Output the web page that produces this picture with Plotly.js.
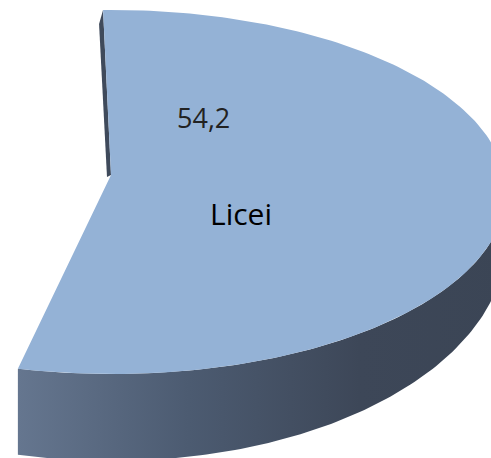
<!DOCTYPE html>
<html>
<head>
<meta charset="utf-8">
<script src="https://cdn.plot.ly/plotly-3.0.1.min.js"></script>
<style>html,body{margin:0;padding:0;background:#fff;}#chart{width:491px;height:458px;}</style>
</head>
<body>
<div id="chart"></div>
<script>
// ---- data ----
const categories = ['Licei'];
const values = [54.2];            // percent
const valueLabels = ['54,2'];

// ---- 3D pie geometry (layout/style, in pixel units of hidden axes) ----
const W = 491, H = 458;
const cx = 112, rx = 394;
const topCy = 192, topRy = 182;
const botCy = 241, botRy = 220;
const apex = [111, 175];
const startDeg = -1.3;

function pt(cy, ry, deg) {
  const r = deg * Math.PI / 180;
  return [cx + rx * Math.sin(r), cy - ry * Math.cos(r)];
}
function arc(cy, ry, d0, d1, n) {
  const xs = [], ys = [];
  for (let i = 0; i <= n; i++) {
    const p = pt(cy, ry, d0 + (d1 - d0) * i / n);
    xs.push(p[0]); ys.push(p[1]);
  }
  return [xs, ys];
}

const sweep = values[0] / 100 * 360;
const endDeg = startDeg + sweep;

// top face
const topArc = arc(topCy, topRy, startDeg, endDeg, 200);
const topX = [apex[0]].concat(topArc[0], [apex[0]]);
const topY = [apex[1]].concat(topArc[1], [apex[1]]);

// outer side wall (front visible part)
const sideTop = arc(topCy, topRy, 90, endDeg, 120);
const sideBot = arc(botCy, botRy, endDeg, 90, 120);
const sideX = sideTop[0].concat(sideBot[0], [sideTop[0][0]]);
const sideY = sideTop[1].concat(sideBot[1], [sideTop[1][0]]);

// inner radial face at start edge (thin sliver)
const s0 = pt(topCy, topRy, startDeg);
const slX = [s0[0], apex[0], apex[0] - 4, s0[0] - 4, s0[0]];
const slY = [s0[1], apex[1], apex[1] + 2, s0[1] + 14, s0[1]];

const traces = [
  {
    type: 'scatter', mode: 'lines', x: sideX, y: sideY, fill: 'toself',
    line: {width: 0, color: 'rgba(0,0,0,0)'},
    fillgradient: {type: 'horizontal',
      colorscale: [[0, '#65768f'], [0.35, '#4c5b71'], [0.7, '#3d4758'], [1, '#3b4555']]},
    hoverinfo: 'skip'
  },
  {
    type: 'scatter', mode: 'lines', x: slX, y: slY, fill: 'toself',
    fillcolor: '#3f4a5b', line: {width: 0, color: 'rgba(0,0,0,0)'}, hoverinfo: 'skip'
  },
  {
    type: 'scatter', mode: 'lines', x: topX, y: topY, fill: 'toself',
    fillcolor: '#94b2d6', line: {width: 0, color: 'rgba(0,0,0,0)'}, hoverinfo: 'skip',
    name: categories[0]
  }
];

const layout = {
  width: W, height: H,
  margin: {l: 0, r: 0, t: 0, b: 0, pad: 0},
  paper_bgcolor: '#ffffff', plot_bgcolor: '#ffffff',
  showlegend: false,
  xaxis: {range: [0, W], visible: false, fixedrange: true},
  yaxis: {range: [H, 0], visible: false, fixedrange: true},
  annotations: [
    {x: 203, y: 117, xref: 'x', yref: 'y', text: valueLabels[0], showarrow: false,
     font: {family: 'Open Sans, sans-serif', size: 27, color: '#222222'}},
    {x: 241, y: 213, xref: 'x', yref: 'y', text: categories[0], showarrow: false,
     font: {family: 'Open Sans, sans-serif', size: 30, color: '#000000'}}
  ]
};

Plotly.newPlot('chart', traces, layout, {staticPlot: true, displayModeBar: false});
</script>
</body>
</html>
